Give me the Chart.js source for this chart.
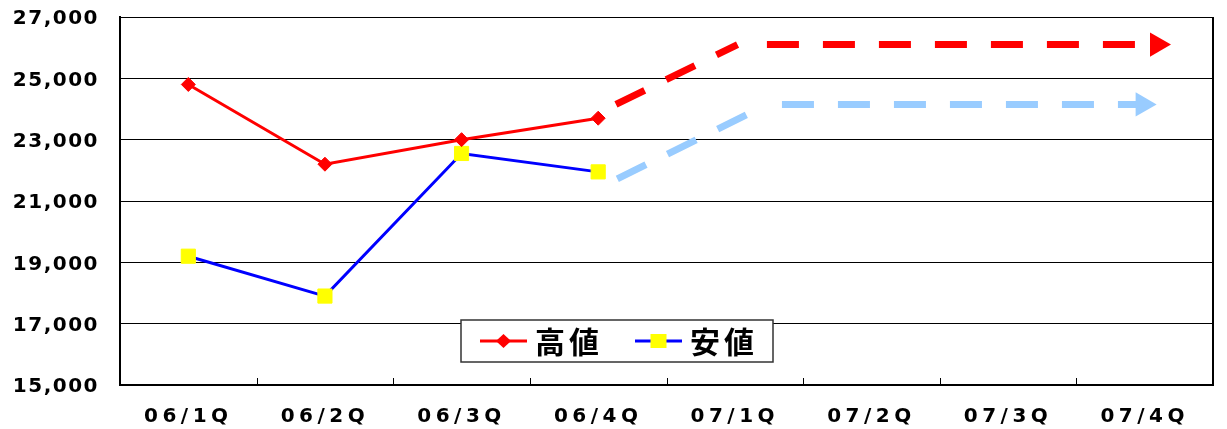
<!DOCTYPE html>
<html>
<head>
<meta charset="utf-8">
<script src="https://cdn.jsdelivr.net/npm/chart.js@4"></script>
<style>
    body { margin: 0; background: #fff; }
    #chart1 { display: block; }
</style>
</head>
<body>
<canvas id="chart1" width="1227" height="429"></canvas>
<script>
var categories = ['06/1Q', '06/2Q', '06/3Q', '06/4Q', '07/1Q', '07/2Q', '07/3Q', '07/4Q'];
var seriesNames = ['高値', '安値'];
var highValues = [24800, 22200, 23000, 23700];
var lowValues = [19200, 17900, 22550, 21950];

// forecast arrows: [category position, value]
var highTrend = [[3.13, 24150], [4.02, 26100]];
var highArrow = [[4.235, 26100], [7.09, 26100]];
var lowTrend = [[3.14, 21720], [4.24, 24150]];
var lowArrow = [[4.345, 24150], [6.985, 24150]];

var yMin = 15000;
var yMax = 27000;
var yStep = 2000;

var tickFont = { family: '"DejaVu Sans", sans-serif', weight: 'bold', size: 20 };

function toPoints(list) {
    return list.map(function (p) { return { x: p[0], y: p[1] }; });
}

function lastOnly(radius) {
    return function (c) {
        return c.dataIndex === c.dataset.data.length - 1 ? radius : 0;
    };
}

var spacing = {
    id: 'spacing',
    beforeDraw: function (chart) {
        chart.ctx.letterSpacing = '1.5px'; // y labels
    },
    afterDatasetsDraw: function (chart) {
        chart.ctx.letterSpacing = '4.5px'; // x labels (drawn later, z:1)
    },
    afterDraw: function (chart) {
        chart.ctx.letterSpacing = '0px';
    }
};

var frame = {
    id: 'frame',
    afterDraw: function (chart) {
        var ctx = chart.ctx, area = chart.chartArea, xs = chart.scales.x;
        ctx.save();
        ctx.strokeStyle = '#000';
        ctx.lineWidth = 2;
        ctx.beginPath();
        ctx.moveTo(area.right, area.top);
        ctx.lineTo(area.right, area.bottom);
        ctx.stroke();
        ctx.lineWidth = 1;
        for (var i = 0; i < categories.length - 1; i++) {
            var x = Math.round((xs.getPixelForValue(i) + xs.getPixelForValue(i + 1)) / 2) + 0.5;
            ctx.beginPath();
            ctx.moveTo(x, area.bottom - 7);
            ctx.lineTo(x, area.bottom);
            ctx.stroke();
        }
        ctx.restore();
    }
};

var legendBox = {
    id: 'legendBox',
    afterDraw: function (chart) {
        var ctx = chart.ctx, area = chart.chartArea;
        var left = area.left + 341, top = area.bottom - 65, w = 312, h = 42;
        var cy = top + h / 2;
        ctx.save();
        ctx.fillStyle = '#fff';
        ctx.fillRect(left, top, w, h);
        ctx.lineWidth = 1.5;
        ctx.strokeStyle = '#333';
        ctx.strokeRect(left, top, w, h);
        [chart.data.datasets[0], chart.data.datasets[1]].forEach(function (ds, i) {
            var x0 = left + 19 + i * 155;
            var mx = x0 + 23.5;
            ctx.strokeStyle = ds.borderColor;
            ctx.lineWidth = 3;
            ctx.beginPath();
            ctx.moveTo(x0, cy);
            ctx.lineTo(x0 + 47, cy);
            ctx.stroke();
            ctx.fillStyle = ds.pointBackgroundColor;
            if (ds.pointStyle === 'rectRot') {
                ctx.beginPath();
                ctx.moveTo(mx, cy - 7);
                ctx.lineTo(mx + 7.5, cy);
                ctx.lineTo(mx, cy + 7);
                ctx.lineTo(mx - 7.5, cy);
                ctx.closePath();
                ctx.fill();
            } else {
                ctx.fillRect(mx - 8, cy - 7, 16, 14);
            }
            ctx.letterSpacing = '4px';
            ctx.fillStyle = '#000';
            ctx.font = 'bold 30px "Noto Sans CJK JP", sans-serif';
            ctx.textBaseline = 'middle';
            ctx.fillText(ds.label, x0 + 55, cy + 1);
        });
        ctx.restore();
    }
};

var ctx1 = document.getElementById('chart1').getContext('2d');
var chart1 = new Chart(ctx1, {
    type: 'line',
    data: {
        labels: categories,
        datasets: [{
            label: seriesNames[0],
            data: highValues,
            borderColor: '#ff0000',
            borderWidth: 3,
            pointStyle: 'rectRot',
            pointRadius: 7,
            pointBackgroundColor: '#ff0000',
            pointBorderColor: '#ff0000',
            pointBorderWidth: 1
        }, {
            label: seriesNames[1],
            data: lowValues,
            borderColor: '#0000ff',
            borderWidth: 3,
            pointStyle: 'rect',
            pointRadius: 10,
            pointBackgroundColor: '#ffff00',
            pointBorderColor: '#ffff00',
            pointBorderWidth: 1
        }, {
            data: toPoints(highTrend),
            xAxisID: 'xp',
            borderColor: '#ff0000',
            borderWidth: 7,
            borderDash: [32, 24],
            pointRadius: 0
        }, {
            data: toPoints(highArrow),
            xAxisID: 'xp',
            borderColor: '#ff0000',
            borderWidth: 7,
            borderDash: [32, 24],
            pointStyle: 'triangle',
            pointRotation: 90,
            pointRadius: lastOnly(14),
            pointBackgroundColor: '#ff0000',
            pointBorderWidth: 0
        }, {
            data: toPoints(lowTrend),
            xAxisID: 'xp',
            borderColor: '#99ccff',
            borderWidth: 7,
            borderDash: [32, 24],
            pointRadius: 0
        }, {
            data: toPoints(lowArrow),
            xAxisID: 'xp',
            borderColor: '#99ccff',
            borderWidth: 7,
            borderDash: [32, 24],
            pointStyle: 'triangle',
            pointRotation: 90,
            pointRadius: lastOnly(14),
            pointBackgroundColor: '#99ccff',
            pointBorderWidth: 0
        }]
    },
    options: {
        responsive: false,
        animation: false,
        events: [],
        layout: { padding: { top: 17, right: 6, bottom: 0, left: 0 } },
        plugins: {
            legend: { display: false },
            tooltip: { enabled: false }
        },
        scales: {
            x: {
                type: 'category',
                offset: true,
                grid: { display: false },
                border: { display: true, color: '#000', width: 2 },
                ticks: { color: '#000', font: tickFont, padding: 12, maxRotation: 0, z: 1 },
                afterFit: function (scale) { scale.height = 44; }
            },
            xp: {
                type: 'linear',
                display: false,
                min: -0.5,
                max: categories.length - 0.5
            },
            y: {
                min: yMin,
                max: yMax,
                ticks: { stepSize: yStep, color: '#000', font: tickFont, padding: 21, labelOffset: 2 },
                grid: { color: '#000', lineWidth: 1, drawTicks: false },
                border: { display: true, color: '#000', width: 2 },
                afterFit: function (scale) {
                    scale.width = 120;
                    scale.paddingTop = 0;
                    scale.paddingBottom = 0;
                }
            }
        }
    },
    plugins: [spacing, frame, legendBox]
});
</script>
</body>
</html>
